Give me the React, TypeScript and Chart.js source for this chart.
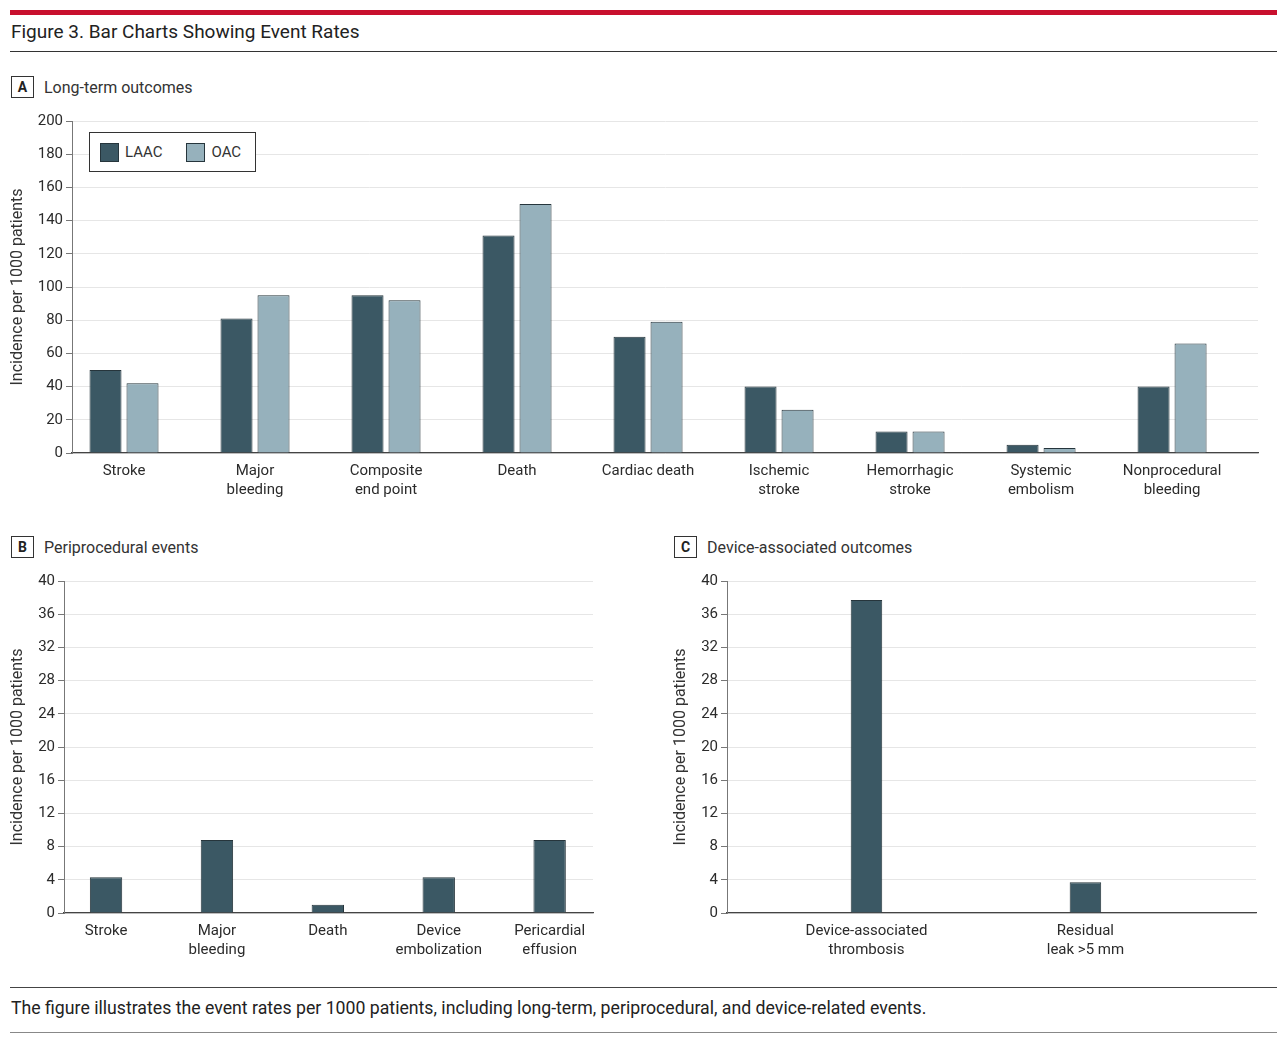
import React, { useRef, useEffect } from 'react';
import { Chart, registerables } from 'chart.js';

Chart.register(...registerables);

// Panel A: long-term outcomes
const longTermLabels = [
  'Stroke',
  ['Major', 'bleeding'],
  ['Composite', 'end point'],
  'Death',
  'Cardiac death',
  ['Ischemic', 'stroke'],
  ['Hemorrhagic', 'stroke'],
  ['Systemic', 'embolism'],
  ['Nonprocedural', 'bleeding'],
];
const laacLongTerm = [50, 81, 95, 131, 70, 40, 13, 5, 40];
const oacLongTerm = [42, 95, 92, 150, 79, 26, 13, 3, 66];

// Panel B: periprocedural events
const periLabels = ['Stroke', ['Major', 'bleeding'], 'Death', ['Device', 'embolization'], ['Pericardial', 'effusion']];
const periValues = [4.3, 8.8, 1.0, 4.3, 8.8];

// Panel C: device-associated outcomes
const deviceLabels = [['Device-associated', 'thrombosis'], ['Residual', 'leak >5 mm']];
const deviceValues = [37.7, 3.7];

const LAAC_COLOR = '#3b5864';
const OAC_COLOR = '#96b1bc';
const BAR_BORDER = '#26353c';
const FONT = 'Roboto, "Noto Sans", sans-serif';

interface BarPanelProps {
  labels: (string | string[])[];
  datasets: { label: string; data: number[]; color: string }[];
  max: number;
  step: number;
  xMin: number;
  xMax: number;
  yWidth: number;
  categoryPercentage: number;
  barPercentage: number;
  left: number;
  top: number;
  width: number;
  height: number;
}

const BarPanel: React.FC<BarPanelProps> = (props) => {
  const canvasRef = useRef<HTMLCanvasElement>(null);

  useEffect(() => {
    if (!canvasRef.current) return;
    const ctx = canvasRef.current.getContext('2d');
    if (!ctx) return;

    const chart = new Chart(ctx, {
      type: 'bar',
      data: {
        datasets: props.datasets.map((d) => ({
          label: d.label,
          data: d.data.map((v, i) => ({ x: i, y: v })),
          backgroundColor: d.color,
          borderColor: BAR_BORDER,
          borderWidth: 1,
          categoryPercentage: props.categoryPercentage,
          barPercentage: props.barPercentage,
        })),
      },
      options: {
        responsive: false,
        maintainAspectRatio: false,
        animation: false,
        layout: { padding: { top: 10, right: 2, left: 0, bottom: 0 } },
        plugins: {
          legend: { display: false },
          tooltip: { enabled: false },
        },
        scales: {
          x: {
            type: 'linear',
            min: props.xMin,
            max: props.xMax,
            offset: false,
            grid: { drawOnChartArea: false, drawTicks: false, offset: false },
            border: { display: true, color: '#444', width: 1.2 },
            ticks: {
              stepSize: 1,
              includeBounds: false,
              color: '#2b2b2b',
              padding: 9,
              maxRotation: 0,
              autoSkip: false,
              font: { family: FONT, size: 15, lineHeight: 1.25 },
              callback: (value: any) =>
                Number.isInteger(value) && props.labels[value] !== undefined ? (props.labels[value] as any) : '',
            },
            afterFit: (scale: any) => {
              scale.height = 58;
            },
          },
          y: {
            min: 0,
            max: props.max,
            ticks: {
              stepSize: props.step,
              color: '#2b2b2b',
              padding: 3,
              font: { family: FONT, size: 15 },
            },
            grid: { color: '#e6e6e6', tickColor: '#777', tickLength: 6, lineWidth: 1 },
            border: { display: true, color: '#777', width: 1 },
            title: {
              display: true,
              text: 'Incidence per 1000 patients',
              color: '#333',
              padding: { top: 0, bottom: 0 },
              font: { family: FONT, size: 16 },
            },
            afterFit: (scale: any) => {
              scale.width = props.yWidth;
            },
          },
        },
      },
    });

    return () => {
      chart.destroy();
    };
  }, []);

  return (
    <canvas
      ref={canvasRef}
      width={props.width}
      height={props.height}
      style={{ position: 'absolute', left: props.left, top: props.top, width: props.width, height: props.height }}
    />
  );
};

const PanelLabel: React.FC<{ letter: string; text: string; left: number; top: number }> = ({ letter, text, left, top }) => (
  <div style={{ position: 'absolute', left, top, display: 'flex', alignItems: 'center', fontFamily: FONT }}>
    <div
      style={{
        width: 21,
        height: 20,
        border: '1px solid #333',
        display: 'flex',
        alignItems: 'center',
        justifyContent: 'center',
        fontSize: 14,
        fontWeight: 700,
        color: '#222',
      }}
    >
      {letter}
    </div>
    <div style={{ marginLeft: 10, fontSize: 16, color: '#333' }}>{text}</div>
  </div>
);

const Swatch: React.FC<{ color: string }> = ({ color }) => (
  <div style={{ width: 17, height: 17, background: color, border: `1px solid ${BAR_BORDER}` }} />
);

const App: React.FC = () => {
  return (
    <div style={{ position: 'absolute', left: 0, top: 0, width: 1280, height: 1038, background: '#fff', fontFamily: FONT }}>
      <div style={{ position: 'absolute', left: 10, top: 10, width: 1267, height: 5, background: '#c8102e' }} />
      <div style={{ position: 'absolute', left: 11, top: 20, fontSize: 19, color: '#222', lineHeight: '24px' }}>
        Figure 3. Bar Charts Showing Event Rates
      </div>
      <div style={{ position: 'absolute', left: 10, top: 51, width: 1267, height: 1, background: '#333' }} />

      <PanelLabel letter="A" text="Long-term outcomes" left={11} top={76} />
      <BarPanel
        labels={longTermLabels}
        datasets={[
          { label: 'LAAC', data: laacLongTerm, color: LAAC_COLOR },
          { label: 'OAC', data: oacLongTerm, color: OAC_COLOR },
        ]}
        max={200}
        step={20}
        xMin={-0.397}
        xMax={8.656}
        yWidth={64}
        categoryPercentage={0.565}
        barPercentage={0.865}
        left={8}
        top={109}
        width={1252}
        height={402}
      />
      <div
        style={{
          position: 'absolute',
          left: 89,
          top: 132,
          width: 165,
          height: 38,
          border: '1px solid #333',
          background: '#fff',
          display: 'flex',
          alignItems: 'center',
          fontSize: 15,
          color: '#333',
        }}
      >
        <div style={{ marginLeft: 10 }}>
          <Swatch color={LAAC_COLOR} />
        </div>
        <div style={{ marginLeft: 6 }}>LAAC</div>
        <div style={{ marginLeft: 24 }}>
          <Swatch color={OAC_COLOR} />
        </div>
        <div style={{ marginLeft: 6 }}>OAC</div>
      </div>

      <PanelLabel letter="B" text="Periprocedural events" left={11} top={536} />
      <BarPanel
        labels={periLabels}
        datasets={[{ label: 'LAAC', data: periValues, color: LAAC_COLOR }]}
        max={40}
        step={4}
        xMin={-0.379}
        xMax={4.391}
        yWidth={56}
        categoryPercentage={0.292}
        barPercentage={1}
        left={8}
        top={569}
        width={587}
        height={402}
      />

      <PanelLabel letter="C" text="Device-associated outcomes" left={674} top={536} />
      <BarPanel
        labels={deviceLabels}
        datasets={[{ label: 'LAAC', data: deviceValues, color: LAAC_COLOR }]}
        max={40}
        step={4}
        xMin={-0.637}
        xMax={1.779}
        yWidth={56}
        categoryPercentage={0.144}
        barPercentage={1}
        left={671}
        top={569}
        width={587}
        height={402}
      />

      <div style={{ position: 'absolute', left: 10, top: 987, width: 1267, height: 1, background: '#444' }} />
      <div style={{ position: 'absolute', left: 11, top: 997, fontSize: 17.7, color: '#222', lineHeight: '22px' }}>
        The figure illustrates the event rates per 1000 patients, including long-term, periprocedural, and device-related events.
      </div>
      <div style={{ position: 'absolute', left: 10, top: 1032, width: 1267, height: 1, background: '#888' }} />
    </div>
  );
};

export default App;
